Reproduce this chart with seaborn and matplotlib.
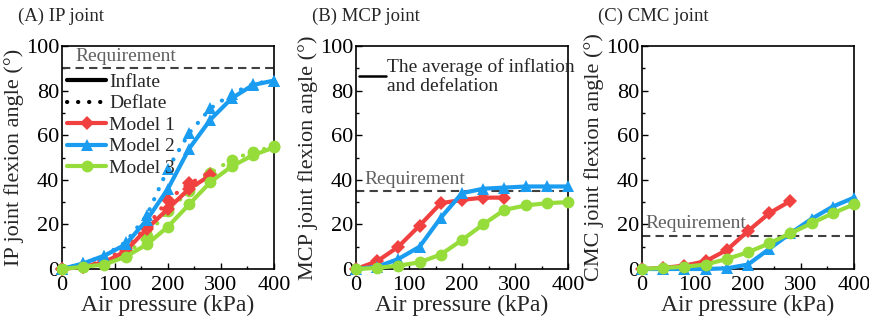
import numpy as np
import pandas as pd
import seaborn as sns
import matplotlib.pyplot as plt
from matplotlib.lines import Line2D
from matplotlib.ticker import MultipleLocator

pressure = [0, 40, 80, 120, 160, 200, 240, 280, 320, 360, 400]
models = ["Model 1", "Model 2", "Model 3"]

# IP joint, inflate / deflate (Model 1 stops at 280 kPa)
ip_inflate = {
    "Model 1": [0, 1, 3, 8, 18, 27, 36, 42],
    "Model 2": [0, 2.5, 6, 11, 22, 36, 54, 67, 76.5, 82.5, 84.5],
    "Model 3": [0, 1, 2, 5.5, 11, 19, 29, 39, 46, 51, 54.5],
}
ip_deflate = {
    "Model 1": [0, 1, 4, 9, 19, 31, 38.5, 42.5],
    "Model 2": [0, 2.5, 6, 12, 24, 45, 61, 72, 78.5, 83, 84.5],
    "Model 3": [0, 1, 3, 6, 15, 26, 35, 43, 49, 52.5, 55],
}
# MCP and CMC joints, average of inflation and deflation
mcp_avg = {
    "Model 1": [0, 3.5, 10, 19.5, 29.5, 31, 32, 32],
    "Model 2": [0, 1, 4.5, 10, 23, 34, 36, 36.5, 37, 37, 37],
    "Model 3": [0, 0.5, 1.5, 3, 6.5, 13, 20, 26.5, 28.5, 29.5, 30],
}
cmc_avg = {
    "Model 1": [0, 0.5, 1.5, 3.5, 8.5, 17, 25, 30.5],
    "Model 2": [0, 0, 0, 0, 0.3, 2, 9, 16, 22.5, 28, 32],
    "Model 3": [0, 0.5, 1, 2, 4.5, 7.5, 11.5, 16, 20.5, 25, 29],
}
requirement = {"IP": 90, "MCP": 35, "CMC": 15}

colors = {"Model 1": "#f04040", "Model 2": "#1a9cf0", "Model 3": "#96dc3a"}
markers = {"Model 1": "D", "Model 2": "^", "Model 3": "o"}
msize = {"Model 1": 7, "Model 2": 8.5, "Model 3": 8.5}
dotted = (0, (0.05, 2.6))

sns.set_theme(style="ticks")
plt.rcParams["font.family"] = ["Liberation Serif", "DejaVu Serif"]

fig = plt.figure(figsize=(8.7, 3.22), dpi=100)
boxes = [(62, "IP"), (356, "MCP"), (642, "CMC")]
axes = []
for left, _ in boxes:
    axes.append(fig.add_axes([left / 870, 1 - 269 / 322, 212 / 870, 223 / 322]))


def draw(ax, data, ls):
    for m in models:
        y = data[m]
        df = pd.DataFrame({"x": pressure[:len(y)], "y": y})
        sns.lineplot(data=df, x="x", y="y", ax=ax, color=colors[m], marker=markers[m],
                     markersize=msize[m], markeredgewidth=0, linewidth=3, linestyle=ls,
                     dash_capstyle="round", clip_on=False, zorder=3)


draw(axes[0], ip_deflate, dotted)
draw(axes[0], ip_inflate, "-")
draw(axes[1], mcp_avg, "-")
draw(axes[2], cmc_avg, "-")

titles = ["(A) IP joint", "(B) MCP joint", "(C) CMC joint"]
ylabels = ["IP joint flexion angle (°)", "MCP joint flexion angle (°)", "CMC joint flexion angle (°)"]
req_x = [25, 15, 6]
for ax, (left, key), t, yl, rx in zip(axes, boxes, titles, ylabels, req_x):
    r = requirement[key]
    ax.axhline(r, color="#404040", linestyle=(0, (4, 2.5)), linewidth=1.5, zorder=2)
    ax.text(rx, r + 1.5, "Requirement", color="#606060", fontsize=14, va="bottom", ha="left")
    ax.set_xlim(0, 400)
    ax.set_ylim(0, 100)
    ax.xaxis.set_major_locator(MultipleLocator(100))
    ax.xaxis.set_minor_locator(MultipleLocator(50))
    ax.yaxis.set_major_locator(MultipleLocator(20))
    ax.yaxis.set_minor_locator(MultipleLocator(10))
    ax.tick_params(which="both", direction="in", labelsize=16, colors="black")
    ax.tick_params(which="major", length=4, width=1)
    ax.tick_params(which="minor", length=2, width=1)
    ax.tick_params(axis="x", pad=5)
    ax.tick_params(axis="y", pad=2)
    for s in ax.spines.values():
        s.set_linewidth(1.2)
        s.set_color("black")
    ax.set_xlabel("Air pressure (kPa)", fontsize=17, labelpad=0)
    ax.set_ylabel(yl, fontsize=16, labelpad=1)
    fig.text((left - 44) / 870, 1 - 16 / 322, t, fontsize=13.5, va="center", ha="left")

handles = [
    Line2D([], [], color="black", linewidth=3, linestyle="-"),
    Line2D([], [], color="black", linewidth=3, linestyle=dotted, dash_capstyle="round"),
]
for m in models:
    handles.append(Line2D([], [], color=colors[m], marker=markers[m], markersize=msize[m],
                          markeredgewidth=0, linewidth=3))
axes[0].legend(handles, ["Inflate", "Deflate"] + models, loc="upper left",
               bbox_to_anchor=(-0.03, 0.93), frameon=False, fontsize=14,
               handlelength=2.0, handletextpad=0.15, labelspacing=0.2, borderaxespad=0.2)

axes[1].legend([Line2D([], [], color="black", linewidth=1.8)],
               ["The average of inflation\nand defelation"], loc="upper left",
               bbox_to_anchor=(-0.04, 1.0), frameon=False, fontsize=14,
               handlelength=1.4, handletextpad=0.05, borderaxespad=0.2)

fig.savefig("out.png", dpi=100)
